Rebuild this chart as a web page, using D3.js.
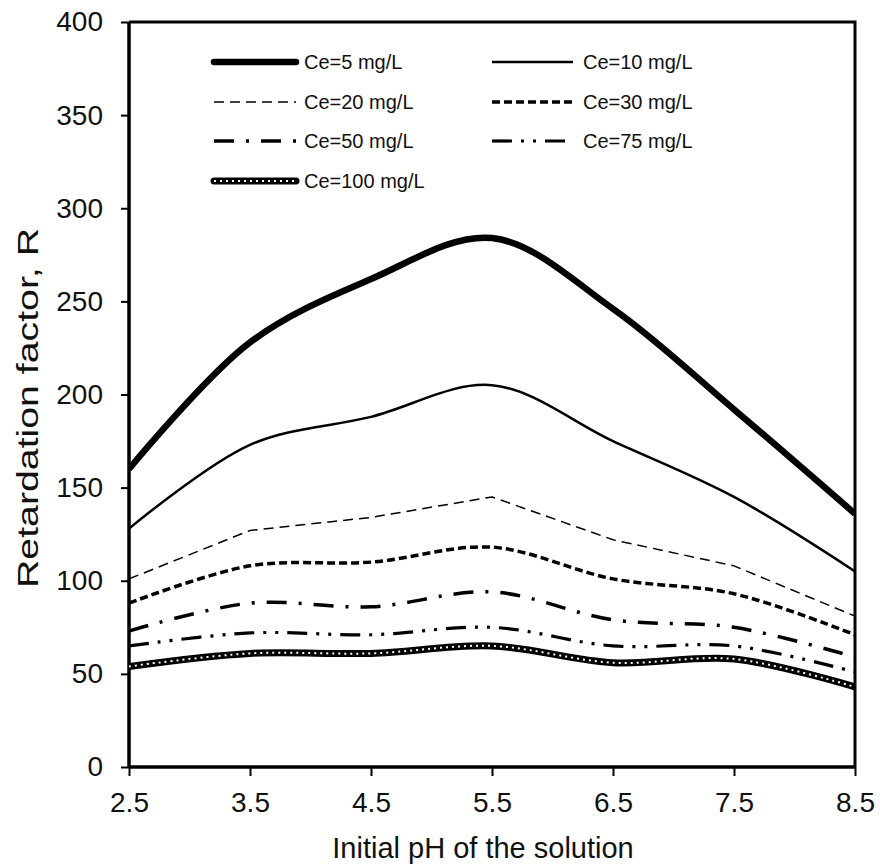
<!DOCTYPE html>
<html>
<head>
<meta charset="utf-8">
<script src="https://cdn.jsdelivr.net/npm/d3@7"></script>
<style>
  html, body { margin: 0; padding: 0; background: #fff; }
  text { font-family: "Liberation Sans", Arial, sans-serif; fill: #111; }
</style>
</head>
<body>
<svg id="chart" width="880" height="865"></svg>
<script>
// ---- data ----
const phValues = [2.5, 3.5, 4.5, 5.5, 6.5, 7.5, 8.5];
const xTickLabels = ["2.5", "3.5", "4.5", "5.5", "6.5", "7.5", "8.5"];
const yTickValues = [0, 50, 100, 150, 200, 250, 300, 350, 400];
const seriesNames = ["Ce=5 mg/L", "Ce=10 mg/L", "Ce=20 mg/L", "Ce=30 mg/L", "Ce=50 mg/L", "Ce=75 mg/L", "Ce=100 mg/L"];
const ce5   = [160, 228, 262, 284, 246, 192, 136];
const ce10  = [128, 173, 188, 205, 175, 145, 105];
const ce20  = [101, 127, 134, 145, 122, 108, 81];
const ce30  = [88, 108, 110, 118, 101, 93, 71];
const ce50  = [73, 88, 86, 94, 79, 75, 59];
const ce75  = [65, 72, 71, 75, 65, 65, 51];
const ce100 = [54, 61, 61, 65, 56, 58, 43];
const seriesValues = [ce5, ce10, ce20, ce30, ce50, ce75, ce100];

// ---- styles ----
const styles = [
  { w: 6.5, dash: null, smooth: true, cap: "round" },
  { w: 2.5, dash: null, smooth: true },
  { w: 1.5, dash: "10,6", smooth: false },
  { w: 3.5, dash: "8,4", smooth: true },
  { w: 3.5, dash: "20,12,3,12", smooth: true },
  { w: 3.2, dash: "20,9,3,9,3,9", smooth: true },
  { w: 7, dash: null, smooth: true, dotted: true, cap: "round" }
];

const svg = d3.select("#chart");
const L = 129, R = 855, T = 22, B = 767;
const x = d3.scaleLinear().domain([2.5, 8.5]).range([L, R]);
const y = d3.scaleLinear().domain([0, 400]).range([B, T]);

// frame (top & right)
svg.append("path")
  .attr("d", `M${L},${T}H${R}V${B}`)
  .attr("fill", "none").attr("stroke", "#000").attr("stroke-width", 3);

// axes
const yAxis = svg.append("g").attr("transform", `translate(${L},0)`)
  .call(d3.axisLeft(y).tickValues(yTickValues).tickSize(8).tickPadding(18).tickFormat(d3.format("d")));
const xAxis = svg.append("g").attr("transform", `translate(0,${B})`)
  .call(d3.axisBottom(x).tickValues(phValues).tickSize(9).tickPadding(16).tickFormat((d, i) => xTickLabels[i]));
[xAxis, yAxis].forEach(g => {
  g.select(".domain").attr("stroke", "#000").attr("stroke-width", 3.5);
  g.selectAll(".tick line").attr("stroke", "#000").attr("stroke-width", 2);
  g.selectAll(".tick text").attr("font-size", 28).attr("fill", "#1a1a1a")
    .style("font-family", '"Liberation Sans", Arial, sans-serif');
});
yAxis.select(".domain").attr("d", `M0,${B}V${T}`);
xAxis.select(".domain").attr("d", `M${L},0H${R}`);

// axis titles
svg.append("text")
  .attr("x", 483).attr("y", 858)
  .attr("text-anchor", "middle").attr("font-size", 29)
  .text("Initial pH of the solution");
svg.append("text")
  .attr("transform", `translate(38,${408}) rotate(-90)`)
  .attr("text-anchor", "middle").attr("font-size", 30)
  .attr("textLength", 360).attr("lengthAdjust", "spacingAndGlyphs")
  .text("Retardation  factor, R");

// lines
svg.append("defs").append("clipPath").attr("id", "plotclip")
  .append("rect").attr("x", L).attr("y", T).attr("width", R - L).attr("height", B - T);
const plot = svg.append("g").attr("clip-path", "url(#plotclip)");

function drawStyled(g, s, d, legendMode) {
  const p = g.append("path").attr("d", d).attr("fill", "none")
    .attr("stroke", "#000").attr("stroke-width", s.w)
    .attr("stroke-linejoin", "round");
  if (legendMode && s.cap) p.attr("stroke-linecap", s.cap);
  if (s.dash) p.attr("stroke-dasharray", s.dash);
  if (s.dotted) {
    g.append("path").attr("d", d).attr("fill", "none")
      .attr("stroke", "#fff").attr("stroke-width", 2)
      .attr("stroke-dasharray", "2,4");
  }
}

seriesValues.forEach((vals, i) => {
  const s = styles[i];
  const line = d3.line()
    .x((v, j) => x(phValues[j]))
    .y(v => y(v))
    .curve(s.smooth ? d3.curveCatmullRom.alpha(0.5) : d3.curveLinear);
  drawStyled(plot, s, line(vals), false);
});

// legend
const legend = svg.append("g");
const rowY = [62, 102, 141, 181];
const cols = [{ x1: 214, x2: 296, tx: 304 }, { x1: 492, x2: 573, tx: 583 }];
seriesNames.forEach((name, i) => {
  const c = cols[i % 2];
  const ry = rowY[Math.floor(i / 2)];
  const s = styles[i];
  drawStyled(legend, s, `M${c.x1},${ry}H${c.x2}`, true);
  legend.append("text").attr("x", c.tx).attr("y", ry).attr("dy", "0.35em")
    .attr("font-size", 20).attr("fill", "#1a1a1a").text(name);
});
</script>
</body>
</html>
